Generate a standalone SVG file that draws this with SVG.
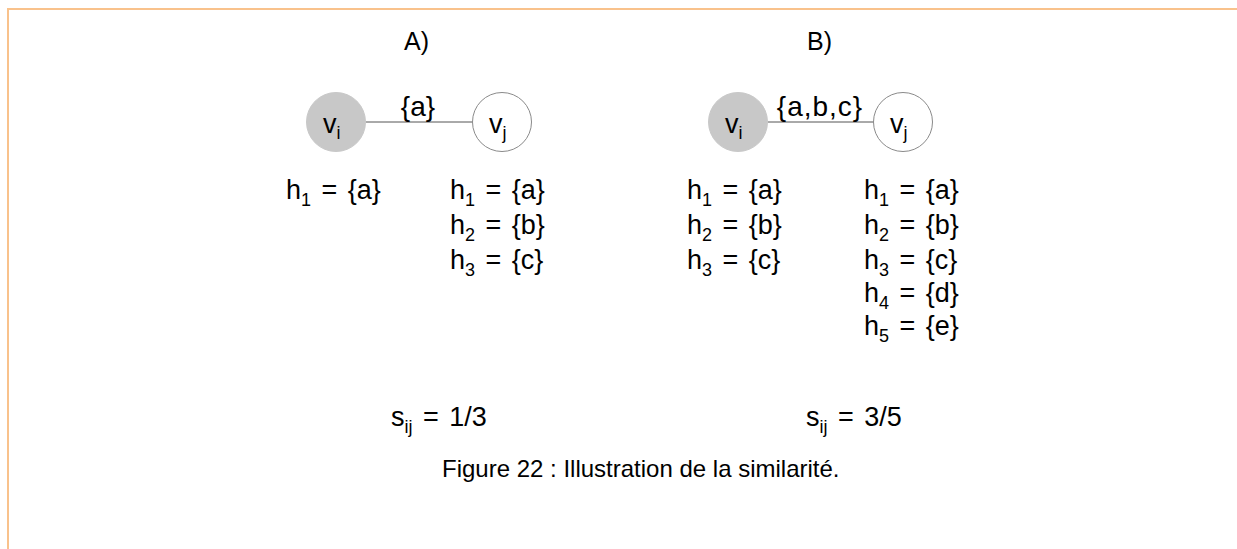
<svg xmlns="http://www.w3.org/2000/svg" width="1237" height="549" viewBox="0 0 1237 549">
<style>
text{font-family:"Liberation Sans",Arial,sans-serif;fill:#000;}
.t{font-size:27px;word-spacing:3px;}
.e{font-size:28px;}
.h{font-size:25px;}
.s{font-size:18px;}
.cap{font-size:24px;}
.filled{fill:#C8C8C8;stroke:#C8C8C8;stroke-width:1;}
.open{fill:#fff;stroke:#8a8a8a;stroke-width:1;}
.edge{stroke:#555;stroke-width:1;fill:none;}
</style>
<rect x="0" y="0" width="1237" height="549" fill="#fff"/>
<path d="M8 549 V9 H1237" fill="none" stroke="#F9C28C" stroke-width="2"/>
<text class="h" x="404" y="50">A)</text>
<text class="h" x="807" y="50">B)</text>
<g id="connectors">
<line class="edge" x1="366" y1="122" x2="473" y2="122"/>
<line class="edge" x1="768" y1="122" x2="874" y2="122"/>
</g>
<text class="e" x="418" y="116" text-anchor="middle">{a}</text>
<text class="e" x="820" y="116" text-anchor="middle" letter-spacing="1">{a,b,c}</text>
<g id="A_vi">
<circle class="filled" cx="336" cy="122" r="29.5"/>
<text class="t" x="323" y="133">v<tspan class="s" dy="6">i</tspan></text>
</g>
<g id="A_vj">
<circle class="open" cx="502" cy="122" r="29.5"/>
<text class="t" x="489" y="133">v<tspan class="s" dy="6">j</tspan></text>
</g>
<g id="B_vi">
<circle class="filled" cx="738" cy="122" r="29.5"/>
<text class="t" x="725" y="133">v<tspan class="s" dy="6">i</tspan></text>
</g>
<g id="B_vj">
<circle class="open" cx="903" cy="122" r="29.5"/>
<text class="t" x="890" y="133">v<tspan class="s" dy="6">j</tspan></text>
</g>
<g id="A_left">
<text class="t" x="286" y="199">h<tspan class="s" dy="7">1</tspan><tspan dy="-7"> = {a}</tspan></text>
</g>
<g id="A_right">
<text class="t" x="450" y="199">h<tspan class="s" dy="7">1</tspan><tspan dy="-7"> = {a}</tspan></text>
<text class="t" x="450" y="234">h<tspan class="s" dy="7">2</tspan><tspan dy="-7"> = {b}</tspan></text>
<text class="t" x="450" y="269">h<tspan class="s" dy="7">3</tspan><tspan dy="-7"> = {c}</tspan></text>
</g>
<g id="B_left">
<text class="t" x="687" y="199">h<tspan class="s" dy="7">1</tspan><tspan dy="-7"> = {a}</tspan></text>
<text class="t" x="687" y="234">h<tspan class="s" dy="7">2</tspan><tspan dy="-7"> = {b}</tspan></text>
<text class="t" x="687" y="269">h<tspan class="s" dy="7">3</tspan><tspan dy="-7"> = {c}</tspan></text>
</g>
<g id="B_right">
<text class="t" x="864" y="199">h<tspan class="s" dy="7">1</tspan><tspan dy="-7"> = {a}</tspan></text>
<text class="t" x="864" y="234">h<tspan class="s" dy="7">2</tspan><tspan dy="-7"> = {b}</tspan></text>
<text class="t" x="864" y="269">h<tspan class="s" dy="7">3</tspan><tspan dy="-7"> = {c}</tspan></text>
<text class="t" x="864" y="302">h<tspan class="s" dy="7">4</tspan><tspan dy="-7"> = {d}</tspan></text>
<text class="t" x="864" y="335">h<tspan class="s" dy="7">5</tspan><tspan dy="-7"> = {e}</tspan></text>
</g>
<g id="A_sim">
<text class="t" x="391" y="426">s<tspan class="s" dy="7">ij</tspan><tspan dy="-7"> = 1/3</tspan></text>
</g>
<g id="B_sim">
<text class="t" x="806" y="426">s<tspan class="s" dy="7">ij</tspan><tspan dy="-7"> = 3/5</tspan></text>
</g>
<text class="cap" x="442" y="477">Figure 22 : Illustration de la similarité.</text>
</svg>
